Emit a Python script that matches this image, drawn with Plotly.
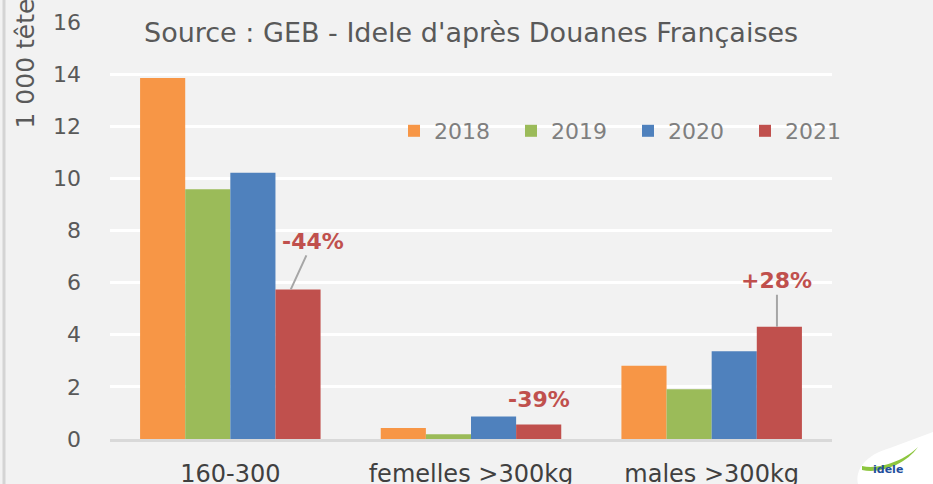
import plotly.graph_objects as go

categories = ["160-300", "femelles >300kg", "males >300kg"]
years = ["2018", "2019", "2020", "2021"]
v2018 = [13.85, 0.42, 2.81]
v2019 = [9.58, 0.18, 1.91]
v2020 = [10.22, 0.86, 3.37]
v2021 = [5.74, 0.56, 4.31]
colors = ["#f79646", "#9bbb59", "#4f81bd", "#c0504d"]
changes = ["-44%", "-39%", "+28%"]
source_text = "Source : GEB - Idele d'après Douanes Françaises"
y_title = "1 000 têtes"

FONT = "DejaVu Sans"
W, H = 933, 484
L, R, T, B = 110, 101, 22, 45
pw, ph = W - L - R, H - T - B

def px(xp):
    return (xp - L) / pw

def py(yp):
    return (H - B - yp) / ph

fig = go.Figure()
for name, vals, c in zip(years, [v2018, v2019, v2020, v2021], colors):
    fig.add_trace(go.Bar(x=categories, y=vals, name=name, marker_color=c,
                         marker_line_width=0))

fig.update_layout(
    width=W, height=H,
    margin=dict(l=L, r=R, t=T, b=B, autoexpand=False),
    paper_bgcolor="#f2f2f2", plot_bgcolor="#f2f2f2",
    barmode="group", bargap=0.25, bargroupgap=0,
    font=dict(family=FONT, color="#595959"),
    showlegend=True,
    legend=dict(orientation="h", x=px(394), y=py(131), xanchor="left", yanchor="middle",
                font=dict(size=22, color="#7f7f7f"), bgcolor="rgba(0,0,0,0)",
                entrywidth=72, entrywidthmode="pixels", itemwidth=30),
)
fig.update_yaxes(range=[0, 16], dtick=2, showgrid=True, gridcolor="#ffffff", gridwidth=2.5,
                 zeroline=False, showline=False, ticks="", automargin=False,
                 tickfont=dict(size=22, color="#595959"), ticklabelstandoff=28)
fig.update_xaxes(showline=True, linecolor="#d9d9d9", linewidth=2.5, ticks="", automargin=False,
                 tickfont=dict(size=24, color="#404040"), ticklabelstandoff=11)

# percentage annotations
red_off = 0.28125
fig.add_annotation(x=0 + red_off - 0.03, y=v2021[0], text="<b>" + changes[0] + "</b>",
                   showarrow=True, arrowhead=0, arrowwidth=2, arrowcolor="#a6a6a6",
                   ax=22, ay=-48, font=dict(size=22, color="#c0504d", family=FONT))
fig.add_annotation(x=1 + red_off, y=v2021[1], text="<b>" + changes[1] + "</b>",
                   showarrow=False, yanchor="bottom", yshift=10,
                   font=dict(size=22, color="#c0504d", family=FONT))
fig.add_annotation(x=2 + red_off - 0.01, y=v2021[2], text="<b>" + changes[2] + "</b>",
                   showarrow=True, arrowhead=0, arrowwidth=2, arrowcolor="#a6a6a6",
                   ax=0, ay=-46, font=dict(size=22, color="#c0504d", family=FONT))

# source
fig.add_annotation(xref="paper", yref="paper", x=px(471), y=py(33), text=source_text,
                   showarrow=False, xanchor="center", yanchor="middle",
                   font=dict(size=27, color="#595959", family=FONT))
# y title
fig.add_annotation(xref="paper", yref="paper", x=px(25), y=py(131), text=y_title,
                   showarrow=False, textangle=-90, xanchor="center", yanchor="bottom",
                   font=dict(size=25, color="#595959", family=FONT))

# left border
fig.add_shape(type="line", xref="paper", yref="paper", x0=px(4), x1=px(4), y0=py(H), y1=py(0),
              line=dict(color="#d4d4d4", width=3))
# logo blob
fig.add_shape(type="path", xref="paper", yref="paper",
              path=f"M {px(858)},{py(484)} C {px(855)},{py(470)} {px(865)},{py(455)} {px(890)},{py(448)} "
                   f"L {px(933)},{py(432)} L {px(933)},{py(484)} Z",
              fillcolor="#ffffff", line=dict(width=0))
fig.add_shape(type="path", xref="paper", yref="paper",
              path=f"M {px(862)},{py(466)} C {px(880)},{py(470)} {px(905)},{py(460)} {px(918)},{py(447)} "
                   f"C {px(905)},{py(465)} {px(880)},{py(474)} {px(862)},{py(470)} Z",
              fillcolor="#8dc63f", line=dict(width=0))
fig.add_annotation(xref="paper", yref="paper", x=px(905), y=py(478), text="<b>idele</b>",
                   showarrow=False, font=dict(size=11, color="#1f4e9c", family=FONT))

fig.write_html("out.html", config={"displayModeBar": False},
               post_script="document.body.style.margin='0px';")
